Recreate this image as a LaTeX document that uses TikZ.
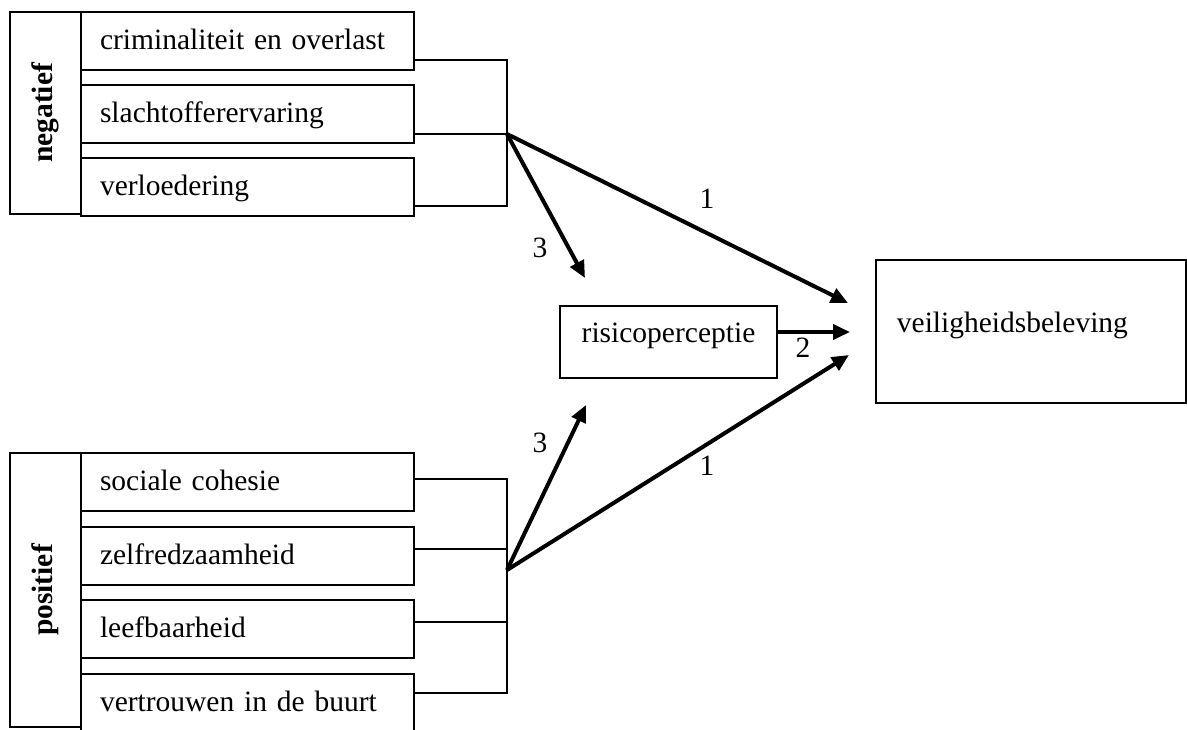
\documentclass[tikz,border=0pt]{standalone}
\usepackage{fontspec}
\setmainfont{Liberation Serif}
\usetikzlibrary{arrows.meta}
\begin{document}
\begin{tikzpicture}[x=1pt,y=-1pt,
  txt/.style={font=\fontsize{29.5}{34}\selectfont},
  item/.style={txt, draw, line width=1.8pt, minimum width=333pt, minimum height=58pt,
    inner xsep=19pt, inner ysep=0pt, text width=295pt, align=left,
    text height=20pt, text depth=4pt, anchor=north west, outer sep=0pt},
  side/.style={draw, line width=1.8pt, rotate=90, inner sep=0pt,
    font=\bfseries\fontsize{29.5}{34}\selectfont},
  bracket/.style={line width=1.8pt},
  arr/.style={line width=4pt, -{Triangle[length=17pt,width=15pt]}},
  num/.style={txt, inner sep=0pt}
]
\useasboundingbox (0,0) rectangle (1187,729);

% negative group
\node[side, minimum width=202pt, minimum height=71pt] (neg) at (45.5,113) {negatief};
\node[item] (n1) at (81,12) {criminaliteit en overlast};
\node[item] (n2) at (81,85) {slachtofferervaring};
\node[item] (n3) at (81,158) {verloedering};

% positive group
\node[side, minimum width=274pt, minimum height=71pt] (pos) at (45.5,590) {positief};
\node[item] (p1) at (81,453) {sociale cohesie};
\node[item] (p2) at (81,527) {zelfredzaamheid};
\node[item] (p3) at (81,600) {leefbaarheid};
\node[item] (p4) at (81,674) {vertrouwen in de buurt};

% central boxes
\node[txt, draw, line width=1.8pt, minimum width=217pt, minimum height=72pt, outer sep=0pt,
  text height=14pt, text depth=14pt, inner ysep=0pt] (risk) at (668.5,342) {risicoperceptie};
\node[txt, draw, line width=1.8pt, minimum width=310pt, minimum height=143pt,
  inner xsep=21pt, inner ysep=0pt, text width=268pt, align=left,
  text height=14pt, text depth=11pt, anchor=north west] (vb) at (875,259) {veiligheidsbeleving};

% junctions and free ends
\coordinate (jn) at (507,134);
\coordinate (jp) at (507,570);
\coordinate (nr) at (585,278);
\coordinate (nv) at (848,303);
\coordinate (rv) at (850,332);
\coordinate (pr) at (586,405);
\coordinate (pv) at (849,355);

% brackets
\draw[bracket] (n1.east |- 0,60) -- (jn |- 0,60) -- (jn |- 0,206) -- (n3.east |- 0,206);
\draw[bracket] (n2.east |- jn) -- (jn);
\draw[bracket] (p1.east |- 0,479) -- (jp |- 0,479) -- (jp |- 0,693) -- (p4.east |- 0,693);
\draw[bracket] (p2.east |- 0,549) -- (jp |- 0,549);
\draw[bracket] (p3.east |- 0,622) -- (jp |- 0,622);

% arrows
\draw[arr] (jn) -- (nr);
\draw[arr] (jn) -- (nv);
\draw[arr] (risk.east |- rv) -- (rv);
\draw[arr] (jp) -- (pr);
\draw[arr] (jp) -- (pv);

% labels
\node[num] (l1a) at (707,199) {1};
\node[num] (l3a) at (540,248) {3};
\node[num] (l2) at (803,348) {2};
\node[num] (l3b) at (540,443) {3};
\node[num] (l1b) at (707,466) {1};
\end{tikzpicture}
\end{document}
